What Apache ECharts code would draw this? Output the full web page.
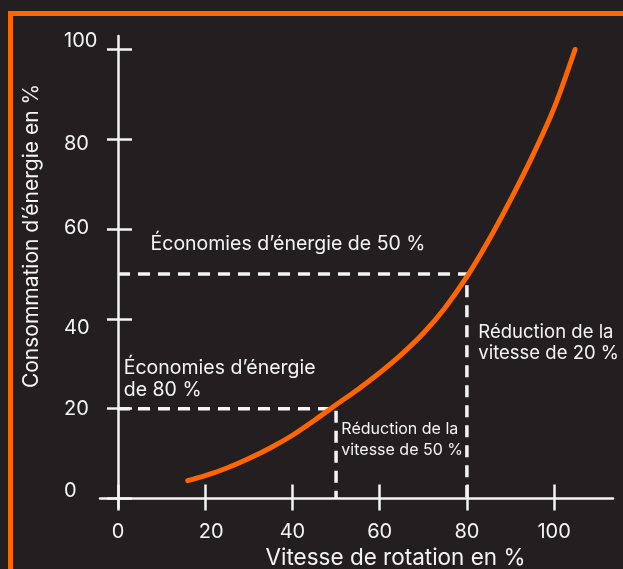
<!DOCTYPE html>
<html><head><meta charset="utf-8">
<script src="https://cdn.jsdelivr.net/npm/echarts@6/dist/echarts.min.js"></script>
<style>html,body{margin:0;padding:0;background:#231f20;}#c{width:623px;height:569px;}</style>
</head><body><div id="c"></div>
<script>
// ---- data ----
const speedTicks = [0, 20, 40, 60, 80, 100];
const energyTicks = [0, 20, 40, 60, 80, 100];
const curveSpeed  = [16, 20, 25, 30, 35, 40, 45, 50, 55, 60, 65, 70, 75, 80, 85, 90, 95, 100, 104.8];
const curveEnergy = [4.0, 5.1, 6.8, 8.9, 11.3, 14.1, 17.4, 20.9, 24.3, 28.0, 32.1, 36.8, 42.5, 49.4, 57.5, 66.5, 76.2, 87.0, 100];
const guideSpeed  = [80, 50];
const guideEnergy = [50, 20];
const annotationTexts = [
  'Économies d’énergie de 50 %',
  'Économies d’énergie\nde 80 %',
  'Réduction de la\nvitesse de 20 %',
  'Réduction de la\nvitesse de 50 %'
];
const xTitle = 'Vitesse de rotation en %';
const yTitle = 'Consommation d’énergie en %';

// ---- style ----
const FONT = 'Inter';
const WHITE = '#f4f4f4';
const ORANGE = '#ff6600';
const X_MIN = -4.13, X_MAX = 113.5, Y_MIN = -2.1, Y_MAX = 103;
const yLabelShift = {0: -8, 20: 0, 40: 9.5, 60: -1, 80: 5, 100: -8};
const xLabelShift = {20: 6};

const yRich = {};
energyTicks.forEach(v => {
  const d = yLabelShift[v] || 0;
  yRich['s' + v] = {
    color: WHITE, fontFamily: FONT, fontSize: 20,
    padding: d > 0 ? [2 * d, 0, 0, 0] : [0, 0, -2 * d, 0]
  };
});
const xRich = {};
speedTicks.forEach(v => {
  const d = xLabelShift[v] || 0;
  xRich['s' + v] = {
    color: WHITE, fontFamily: FONT, fontSize: 20,
    padding: d > 0 ? [0, 0, 0, 2 * d] : [0, -2 * d, 0, 0]
  };
});

const curveData = curveSpeed.map((x, i) => [x, curveEnergy[i]]);
const guideSeries = guideSpeed.map((s, i) => ({
  type: 'line', xAxisIndex: 0, yAxisIndex: 0, symbol: 'none', silent: true,
  data: [[0, guideEnergy[i]], [s, guideEnergy[i]], [s, 0]],
  lineStyle: {color: WHITE, width: 3.5, type: [12, 8], cap: 'butt'},
  z: 3
}));

const axisLineStyle = {color: WHITE, width: 2.5};
const chart = echarts.init(document.getElementById('c'), null, {renderer: 'canvas'});
chart.setOption({
  backgroundColor: '#231f20',
  animation: false,
  graphic: [{
    type: 'rect', silent: true, z: -1,
    shape: {x: 10.5, y: 13.5, width: 800, height: 800},
    style: {fill: 'none', stroke: ORANGE, lineWidth: 5}
  }],
  grid: {left: 100, right: 10, top: 36, bottom: 61, containLabel: false, outerBoundsMode: 'none'},
  xAxis: [{
    type: 'value', min: X_MIN, max: X_MAX, position: 'bottom',
    axisLine: {onZero: true, lineStyle: axisLineStyle},
    axisTick: {show: true, customValues: speedTicks, inside: false, length: 12, lineStyle: axisLineStyle},
    axisLabel: {customValues: speedTicks, margin: 14, color: WHITE, fontFamily: FONT, fontSize: 20,
      formatter: v => '{s' + v + '|' + v + '}', rich: xRich},
    splitLine: {show: false},
    name: xTitle, nameLocation: 'middle', nameGap: 33,
    nameTextStyle: {color: WHITE, fontFamily: FONT, fontSize: 22.5, padding: [0, 0, 0, 78]}
  }, {
    type: 'value', min: X_MIN, max: X_MAX, position: 'bottom',
    axisLine: {show: false, onZero: true},
    axisTick: {show: true, customValues: speedTicks, inside: true, length: 14, lineStyle: axisLineStyle},
    axisLabel: {show: false}, splitLine: {show: false}
  }],
  yAxis: [{
    type: 'value', min: Y_MIN, max: Y_MAX, position: 'left',
    axisLine: {onZero: true, lineStyle: axisLineStyle},
    axisTick: {show: true, customValues: energyTicks, inside: false, length: 11, lineStyle: axisLineStyle},
    axisLabel: {customValues: energyTicks, margin: 36, align: 'left', color: WHITE, fontFamily: FONT, fontSize: 20,
      formatter: v => '{s' + v + '|' + v + '}', rich: yRich},
    splitLine: {show: false},
    name: yTitle, nameLocation: 'middle', nameGap: 58,
    nameTextStyle: {color: WHITE, fontFamily: FONT, fontSize: 21, padding: [0, 0, 0, 72]}
  }, {
    type: 'value', min: Y_MIN, max: Y_MAX, position: 'left',
    axisLine: {show: false, onZero: true},
    axisTick: {show: true, customValues: energyTicks, inside: true, length: 14, lineStyle: axisLineStyle},
    axisLabel: {show: false}, splitLine: {show: false}
  }],
  series: [
    ...guideSeries,
    {
      type: 'line', xAxisIndex: 0, yAxisIndex: 0, symbol: 'none', smooth: 0.3, silent: true,
      data: curveData,
      lineStyle: {color: ORANGE, width: 5, cap: 'round'},
      z: 4,
      markPoint: {
        symbol: 'circle', symbolSize: 1, silent: true,
        itemStyle: {color: 'rgba(0,0,0,0)'},
        label: {show: true, position: 'right', distance: 0, color: WHITE, fontFamily: FONT, fontSize: 19.5, lineHeight: 22},
        data: [
          {coord: [7.34, 56.7], label: {formatter: annotationTexts[0]}},
          {coord: [1.2, 26.6], label: {formatter: annotationTexts[1]}},
          {coord: [82.5, 34.7], label: {formatter: annotationTexts[2], fontSize: 18.5, lineHeight: 21}},
          {coord: [51.1, 13.0], label: {formatter: annotationTexts[3], fontSize: 16, lineHeight: 21, letterSpacing: -0.7}}
        ]
      }
    }
  ]
});
</script>
</body></html>
